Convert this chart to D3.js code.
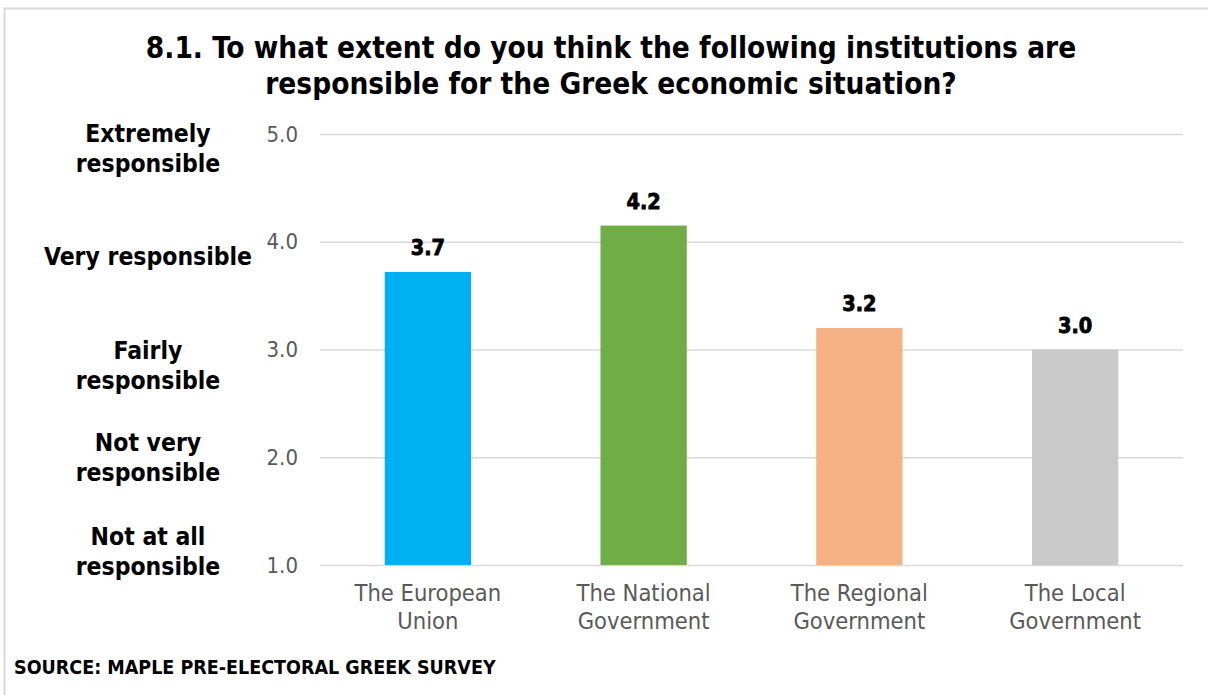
<!DOCTYPE html>
<html>
<head>
<meta charset="utf-8">
<script src="https://cdn.jsdelivr.net/npm/d3@7"></script>
<style>
  html, body { margin: 0; padding: 0; background: #fff; }
  svg { display: block; }
  text { font-family: "DejaVu Sans Condensed", "DejaVu Sans", sans-serif; }
</style>
</head>
<body>
<svg id="chart" width="1208" height="695"></svg>
<script>
const titleLines = ["8.1. To what extent do you think the following institutions are", "responsible for the Greek economic situation?"];
const categories = [["The European", "Union"], ["The National", "Government"], ["The Regional", "Government"], ["The Local", "Government"]];
const values = [3.72, 4.15, 3.2, 3.0];
const valueLabels = ["3.7", "4.2", "3.2", "3.0"];
const colors = ["#00b0f0", "#70ad47", "#f4b183", "#c9c9c9"];
const tickValues = [1, 2, 3, 4, 5];
const scaleLabels = [["Not at all", "responsible"], ["Not very", "responsible"], ["Fairly", "responsible"], ["Very responsible"], ["Extremely", "responsible"]];
const sourceText = "SOURCE: MAPLE PRE-ELECTORAL GREEK SURVEY";

const svg = d3.select("#chart");

// border
svg.append("rect").attr("x", 4.5).attr("y", 8.5).attr("width", 1210).attr("height", 700)
  .attr("fill", "#fff").attr("stroke", "#d9d9d9").attr("stroke-width", 2);

const plotL = 320, plotR = 1183, plotT = 134, plotB = 565;
const y = d3.scaleLinear().domain([1, 5]).range([plotB, plotT]);
const x = d3.scaleBand().domain(categories.map(d => d.join(" "))).range([plotL, plotR]).paddingInner(0.6).paddingOuter(0.3);

// title
svg.append("g").selectAll("text").data(titleLines).join("text")
  .attr("x", 611).attr("y", (d, i) => 58 + i * 36)
  .attr("text-anchor", "middle").attr("font-size", 29.5).attr("font-weight", "bold").attr("fill", "#000")
  .text(d => d);

// grid
const yAxis = d3.axisLeft(y).tickValues(tickValues).tickFormat(d3.format(".1f")).tickSize(-(plotR - plotL)).tickPadding(22);
const gy = svg.append("g").attr("transform", `translate(${plotL},0)`).call(yAxis);
gy.select(".domain").remove();
gy.selectAll(".tick line").attr("stroke", "#d9d9d9").attr("stroke-width", 1.5);
gy.selectAll(".tick text").attr("font-size", 22).attr("fill", "#595959")
  .attr("font-family", "'DejaVu Sans Condensed', sans-serif");

// bars
svg.append("g").selectAll("rect").data(values).join("rect")
  .attr("x", (d, i) => x(categories[i].join(" ")))
  .attr("width", x.bandwidth())
  .attr("y", d => y(d))
  .attr("height", d => y(1) - y(d))
  .attr("fill", (d, i) => colors[i]);

// value labels
svg.append("g").selectAll("text").data(values).join("text")
  .attr("x", (d, i) => x(categories[i].join(" ")) + x.bandwidth() / 2)
  .attr("y", d => y(d) - 17)
  .attr("text-anchor", "middle").attr("font-size", 21.5).attr("font-weight", "bold")
  .attr("fill", "#000").attr("stroke", "#000").attr("stroke-width", 0.8)
  .text((d, i) => valueLabels[i]);

// x labels
const xl = svg.append("g").selectAll("text").data(categories).join("text")
  .attr("x", (d) => x(d.join(" ")) + x.bandwidth() / 2)
  .attr("y", 601)
  .attr("text-anchor", "middle").attr("font-size", 23.5).attr("fill", "#595959");
xl.selectAll("tspan").data(d => d).join("tspan")
  .attr("x", function() { return d3.select(this.parentNode).attr("x"); })
  .attr("dy", (d, i) => i === 0 ? 0 : 28)
  .text(d => d);

// scale labels (block centre offset from its gridline, layout only)
const labelShift = [-13, 1, 16, 15, 15];
const sl = svg.append("g").selectAll("text").data(tickValues).join("text")
  .attr("x", 148)
  .attr("y", (d, i) => y(d) + labelShift[i] + 8 - (scaleLabels[i].length - 1) * 15)
  .attr("text-anchor", "middle").attr("font-size", 24.5).attr("font-weight", "bold").attr("fill", "#000");
sl.selectAll("tspan").data((d, i) => scaleLabels[i]).join("tspan")
  .attr("x", 148)
  .attr("dy", (d, i) => i === 0 ? 0 : 30)
  .text(d => d);

// source
svg.append("text").attr("x", 14).attr("y", 674).attr("font-size", 19.5).attr("font-weight", "bold").attr("fill", "#000")
  .text(sourceText);
</script>
</body>
</html>
